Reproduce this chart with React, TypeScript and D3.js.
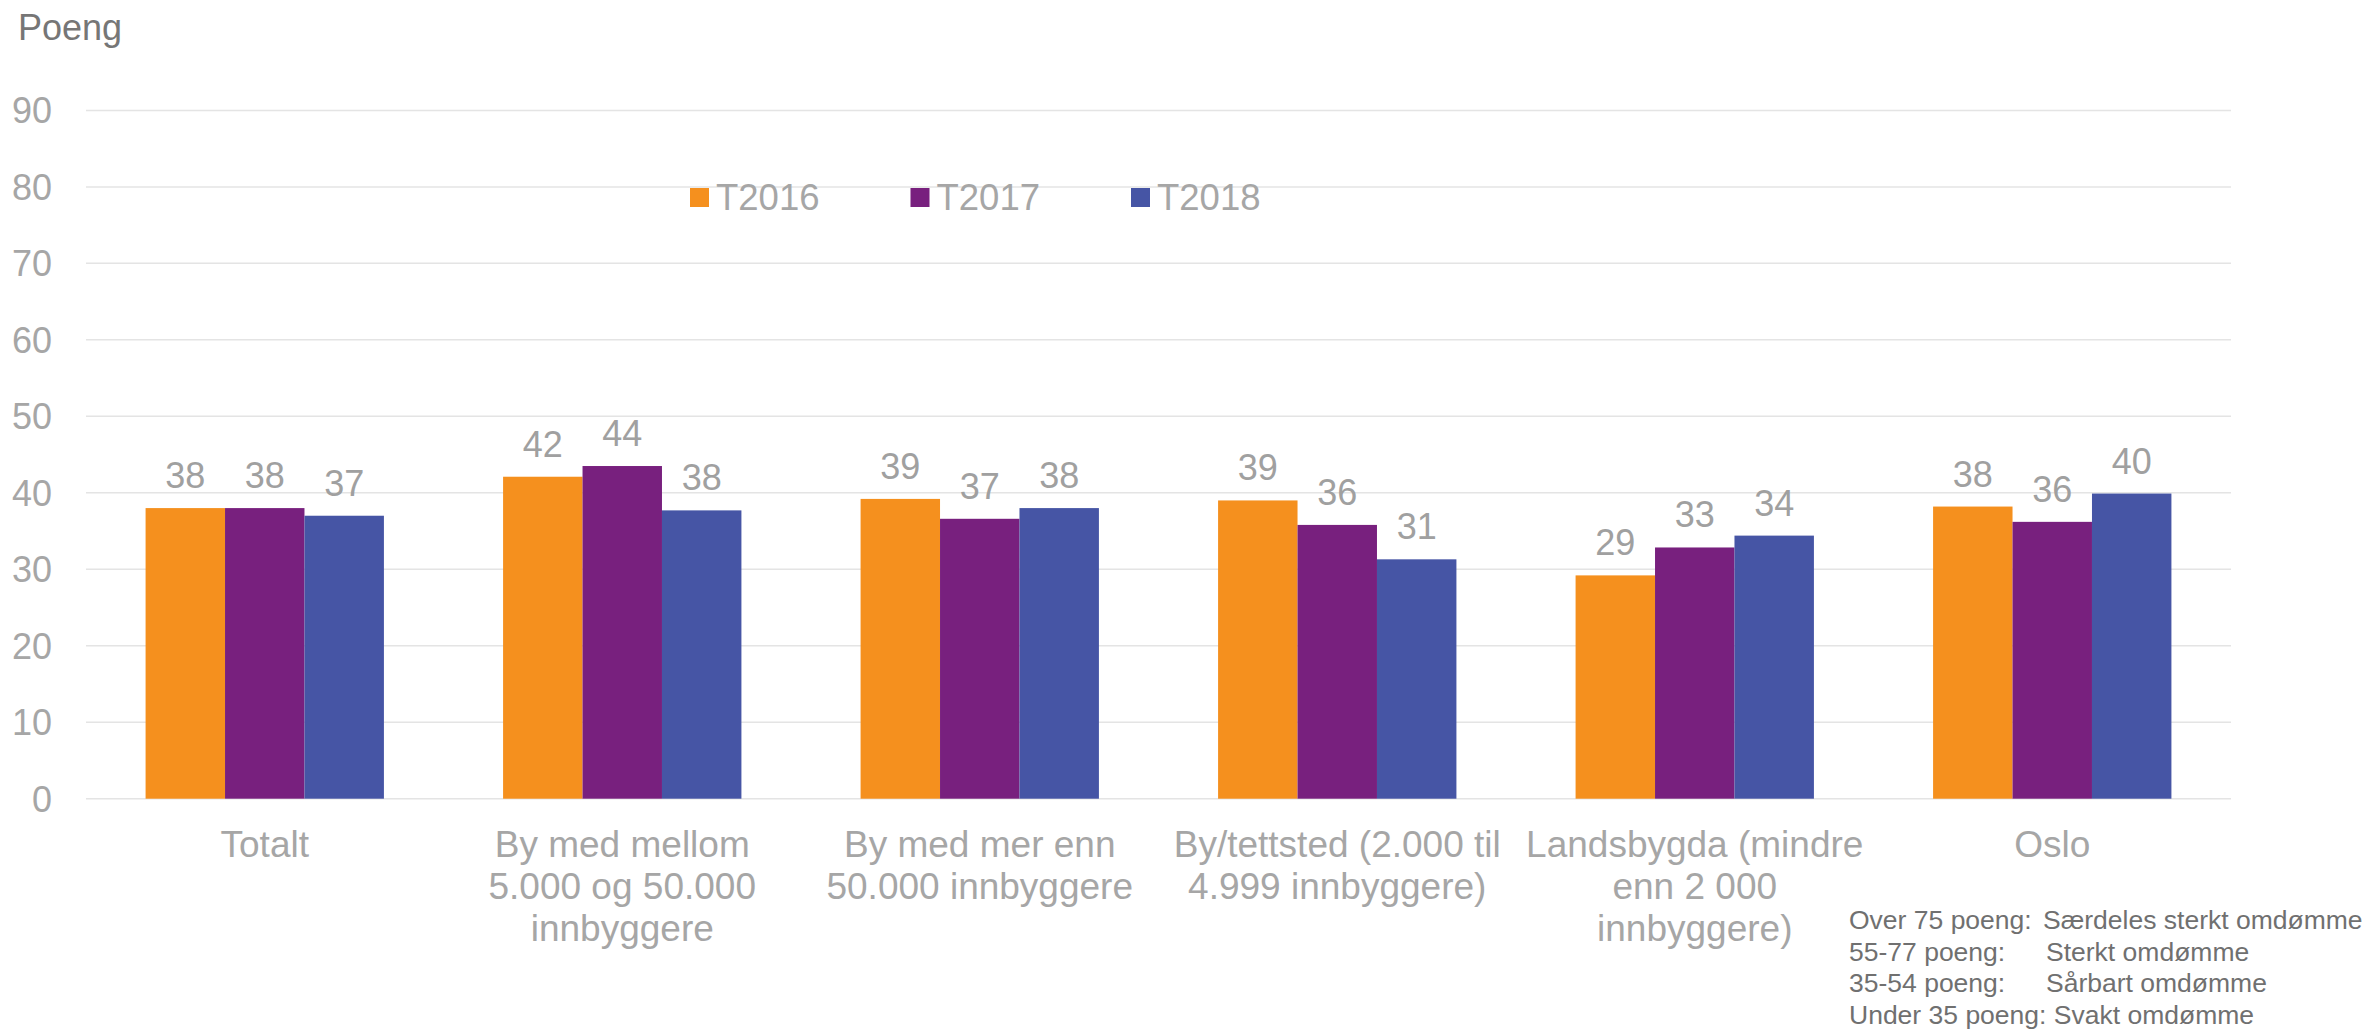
import React from "react";
import * as d3 from "d3";

const categories: string[][] = [
  ["Totalt"],
  ["By med mellom", "5.000 og 50.000", "innbyggere"],
  ["By med mer enn", "50.000 innbyggere"],
  ["By/tettsted (2.000 til", "4.999 innbyggere)"],
  ["Landsbygda (mindre", "enn 2 000", "innbyggere)"],
  ["Oslo"],
];
const seriesNames = ["T2016", "T2017", "T2018"];
const t2016 = [38.0, 42.1, 39.2, 39.0, 29.2, 38.2];
const t2017 = [38.0, 43.5, 36.6, 35.8, 32.85, 36.2];
const t2018 = [37.0, 37.7, 38.0, 31.3, 34.4, 39.9];
const seriesValues = [t2016, t2017, t2018];
const seriesColors = ["#F5901E", "#78207E", "#4655A5"];
const yTicks = [0, 10, 20, 30, 40, 50, 60, 70, 80, 90];
const noteLines: [string, string][] = [
  ["Over 75 poeng:", "Særdeles sterkt omdømme"],
  ["55-77 poeng:", "Sterkt omdømme"],
  ["35-54 poeng:", "Sårbart omdømme"],
  ["Under 35 poeng:", "Svakt omdømme"],
];

const W = 2372;
const H = 1029;
const FONT = "'Liberation Sans', Arial, sans-serif";

export default function App() {
  const catKeys = categories.map((c) => c.join(" "));
  const x0 = d3.scaleBand<string>().domain(catKeys).range([86, 2231]).padding(0);
  const band = x0.bandwidth();
  const gap = (band * 0.75) / 4.5;
  const x1 = d3.scaleBand<string>().domain(seriesNames).range([gap, band - gap]).padding(0);
  const y = d3.scaleLinear().domain([0, 90]).range([798.7, 110.4]);

  return (
    <svg
      width={W}
      height={H}
      style={{ position: "fixed", left: 0, top: 0, background: "#fff" }}
      fontFamily={FONT}
    >
      <text x={18} y={40} fontSize={36} fill="#767676">
        Poeng
      </text>
      {yTicks.map((t) => (
        <g key={t}>
          <line x1={86} x2={2231} y1={y(t)} y2={y(t)} stroke="#E4E4E4" strokeWidth={1.5} />
          <text x={52} y={y(t)} dy="0.36em" textAnchor="end" fontSize={36} fill="#A6A6A6">
            {t}
          </text>
        </g>
      ))}
      {catKeys.map((ck, ci) => (
        <g key={ck} transform={`translate(${x0(ck)},0)`}>
          {seriesNames.map((s, si) => {
            const v = seriesValues[si][ci];
            const bx = x1(s)!;
            const bw = x1.bandwidth();
            return (
              <g key={s}>
                <rect x={bx} y={y(v)} width={bw} height={y(0) - y(v)} fill={seriesColors[si]} />
                <text
                  x={bx + bw / 2}
                  y={y(v) - 20}
                  textAnchor="middle"
                  fontSize={36}
                  fill="#A0A0A0"
                >
                  {Math.round(v)}
                </text>
              </g>
            );
          })}
          {categories[ci].map((line, li) => (
            <text
              key={li}
              x={band / 2}
              y={857 + li * 42}
              textAnchor="middle"
              fontSize={37}
              fill="#A6A6A6"
            >
              {line}
            </text>
          ))}
        </g>
      ))}
      {seriesNames.map((s, si) => {
        const lx = 690 + si * 220.5;
        return (
          <g key={s}>
            <rect x={lx} y={188} width={19} height={19} fill={seriesColors[si]} />
            <text x={lx + 26} y={210} fontSize={36.5} fill="#A6A6A6">
              {s}
            </text>
          </g>
        );
      })}
      {noteLines.map(([a, b], i) => (
        <text key={i} x={1849} y={929 + i * 31.7} fontSize={26.5} fill="#707070">
          {i === 3 ? (
            `${a} ${b}`
          ) : (
            <>
              <tspan>{a}</tspan>
              <tspan x={i === 0 ? 2043 : 2046}>{b}</tspan>
            </>
          )}
        </text>
      ))}
    </svg>
  );
}
